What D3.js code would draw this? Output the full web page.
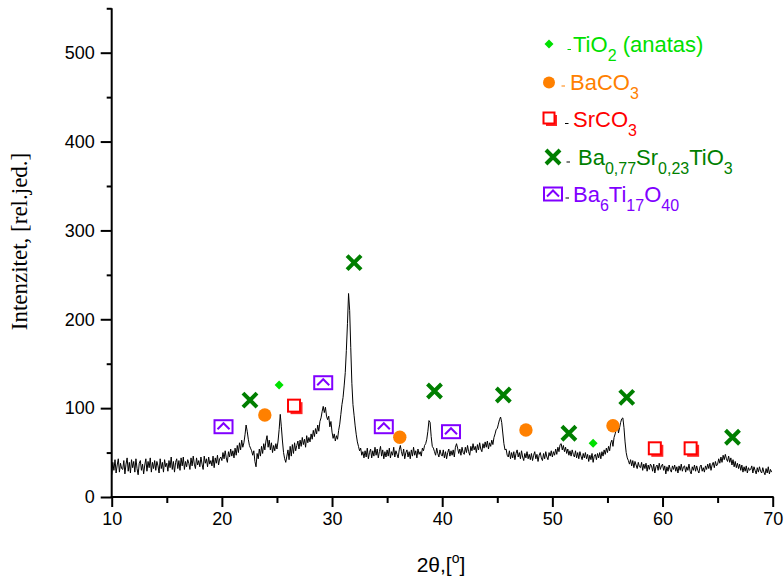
<!DOCTYPE html>
<html>
<head>
<meta charset="utf-8">
<script src="https://cdn.jsdelivr.net/npm/d3@7"></script>
<style>
  html, body { margin: 0; padding: 0; background: #fff; }
  svg { display: block; }
</style>
</head>
<body>
<script>
// ---------------- DATA ----------------
const thetaStart = 10.0;
const thetaStep = 0.1;
const intensity = [
  25,39,30,42,27,36,43,28,38,32,
  31,41,26,37,44,29,39,27,42,33,
  40,28,43,32,25,38,41,30,37,26,
  36,43,29,40,33,44,28,39,32,41,
  30,40,35,27,43,32,39,28,42,34,
  38,29,41,33,45,31,40,28,39,43,
  32,41,30,44,35,45,31,40,34,42,
  38,31,44,35,46,37,32,44,36,41,
  34,45,37,31,46,38,43,34,45,37,
  41,35,46,33,44,38,47,36,43,45,
  41,50,43,52,44,39,51,45,54,46,
  52,44,55,47,58,50,61,53,64,56,
  61,70,81,74,65,58,55,52,47,52,
  40,34,49,43,54,46,57,49,60,53,
  63,69,56,64,53,61,50,58,52,60,
  54,63,76,93,79,63,50,43,39,46,
  53,42,57,46,59,49,61,52,58,63,
  54,64,57,67,59,65,56,69,61,67,
  62,71,65,75,68,77,71,81,74,85,
  89,96,102,95,101,91,87,91,79,85,
  73,66,71,63,69,65,75,82,93,104,
  112,125,140,165,195,229,210,168,128,104,
  92,80,70,62,57,52,55,47,51,44,
  52,45,55,43,50,54,44,52,46,56,
  47,54,44,51,57,46,53,43,51,45,
  53,46,55,44,51,47,56,45,52,48,
  44,53,58,51,46,54,43,50,53,45,
  51,43,53,46,56,47,52,44,54,48,
  51,46,55,52,58,60,65,74,86,84,
  68,57,55,51,47,55,49,45,53,48,
  46,53,44,51,43,50,54,46,52,47,
  53,45,56,60,55,49,54,47,56,50,
  48,56,50,58,51,47,57,52,60,53,
  57,50,59,53,61,54,51,60,55,62,
  56,63,54,61,57,64,59,67,71,76,
  77,82,87,90,84,72,60,53,54,47,
  45,52,43,50,44,51,42,49,53,45,
  50,43,52,45,41,49,44,51,43,48,
  42,49,41,47,51,43,48,40,47,50,
  44,41,49,43,51,45,42,50,46,52,
  45,51,47,54,48,56,51,59,60,53,
  58,51,56,49,54,47,52,46,53,48,
  45,52,44,50,43,51,46,42,49,44,
  50,43,48,40,47,42,49,39,46,48,
  42,49,44,50,43,51,46,53,48,55,
  50,57,52,61,64,57,67,71,77,83,
  72,78,84,88,89,78,62,50,44,41,
  37,42,35,41,33,40,36,32,39,34,
  33,39,30,37,32,38,29,36,31,37,
  35,29,37,27,34,36,30,38,31,35,
  37,30,35,26,34,29,36,31,28,35,
  31,36,29,34,27,35,30,37,29,34,
  35,28,34,30,37,29,26,34,30,36,
  29,35,30,27,34,36,29,33,28,35,
  31,37,32,38,30,36,39,33,40,35,
  37,43,38,45,39,47,42,48,43,40,
  46,39,44,36,42,34,40,33,38,32,
  37,30,36,28,34,29,35,27,33,30,
  31,35,27,34,30,26,33,28,34,29,
  27,33,28,25,32,27,34,26,31,28
];

// phase markers (2theta, intensity position)
const anatasX = [25.2, 53.7];
const anatasY = [126, 60.4];
const bacoX = [23.9, 36.15, 47.6, 55.5];
const bacoY = [92.3, 67.2, 75.4, 80.2];
const srcoX = [26.55, 59.3, 62.55];
const srcoY = [102.8, 54.8, 54.8];
const bstX = [22.55, 32.0, 39.3, 45.55, 51.5, 56.75, 66.35];
const bstY = [109, 263.7, 119.3, 114.8, 71.7, 112.2, 67.2];
const btoX = [20.15, 29.2, 34.7, 40.8];
const btoY = [79.1, 128.6, 79.1, 73.5];

const xMajorTicks = [10, 20, 30, 40, 50, 60, 70];
const xMinorTicks = [15, 25, 35, 45, 55, 65];
const yMajorTicks = [0, 100, 200, 300, 400, 500];
const yMinorTicks = [50, 150, 250, 350, 450, 550];

const xTitle = "2θ,[";
const xTitleSup = "o";
const yTitle = "Intenzitet, [rel.jed.]";

// ---------------- COLOURS ----------------
const cAnatas = "#00e000";
const cBaco = "#ff8000";
const cSrco = "#ff0000";
const cBst = "#007f00";
const cBto = "#8000ff";

// ---------------- CHART ----------------
const W = 784, H = 583;
const svg = d3.select("body").append("svg").attr("width", W).attr("height", H)
  .style("font-family", "Arial, 'Liberation Sans', sans-serif");

const x = d3.scaleLinear().domain([10, 70]).range([111.7, 772.7]);
const y = d3.scaleLinear().domain([0, 550]).range([497, 497 - 550 * 0.8886]);

const pts = intensity.map((v, i) => [thetaStart + i * thetaStep, v]);

// curve
svg.append("path")
  .datum(pts)
  .attr("fill", "none")
  .attr("stroke", "#000")
  .attr("stroke-width", 1)
  .attr("stroke-linejoin", "round")
  .attr("d", d3.line().x(d => x(d[0])).y(d => y(d[1])));

// axes
const xAxis = svg.append("g").attr("transform", `translate(0,${y(0)})`)
  .call(d3.axisBottom(x).tickValues(xMajorTicks).tickSize(10).tickSizeOuter(0).tickPadding(5).tickFormat(d3.format("d")));
const xAxisMinor = svg.append("g").attr("transform", `translate(0,${y(0)})`)
  .call(d3.axisBottom(x).tickValues(xMinorTicks).tickSize(6).tickSizeOuter(0).tickFormat(""));
const yAxis = svg.append("g").attr("transform", `translate(${x(10)},0)`)
  .call(d3.axisLeft(y).tickValues(yMajorTicks).tickSize(11).tickSizeOuter(0).tickPadding(6).tickFormat(d3.format("d")));
const yAxisMinor = svg.append("g").attr("transform", `translate(${x(10)},0)`)
  .call(d3.axisLeft(y).tickValues(yMinorTicks).tickSize(5).tickSizeOuter(0).tickFormat(""));

[xAxis, xAxisMinor, yAxis, yAxisMinor].forEach(g => {
  g.select(".domain").attr("stroke", "#000").attr("stroke-width", 2);
  g.selectAll(".tick line").attr("stroke", "#000").attr("stroke-width", 2);
  g.selectAll(".tick text").attr("fill", "#000").style("font-size", "18px")
    .style("font-family", "Arial, 'Liberation Sans', sans-serif");
});
xAxisMinor.select(".domain").remove();
yAxisMinor.select(".domain").remove();
// extend y-axis line to top (550)
yAxis.select(".domain").attr("d", `M0,${y(0) + 1}V${y(550)}`);
xAxis.select(".domain").attr("d", `M-1,0H${x(70) - x(10) + 1}`).attr("transform", `translate(${x(10)},0)`);

// axis titles
const xt = svg.append("text")
  .attr("x", 441).attr("y", 572)
  .attr("text-anchor", "middle")
  .style("font-size", "21px").attr("fill", "#000");
xt.append("tspan").text(xTitle);
xt.append("tspan").text(xTitleSup).attr("dy", -9).style("font-size", "14px");
xt.append("tspan").text("]").attr("dy", 9);

svg.append("text")
  .attr("transform", "translate(26.5,241.5) rotate(-90)")
  .attr("text-anchor", "middle")
  .style("font-family", "'Times New Roman', 'Liberation Serif', serif")
  .style("font-size", "23px").attr("fill", "#000")
  .text(yTitle);

// ---------------- MARKER SHAPES ----------------
function diamond(g, cx, cy, r, col) {
  g.append("path").attr("d", `M${cx},${cy - r}L${cx + r},${cy}L${cx},${cy + r}L${cx - r},${cy}Z`)
    .attr("fill", col);
}
function circle(g, cx, cy, r, col) {
  g.append("circle").attr("cx", cx).attr("cy", cy).attr("r", r).attr("fill", col);
}
function square(g, cx, cy, s, col) {
  g.append("rect").attr("x", cx - s / 2 + 2.5).attr("y", cy - s / 2 + 2.5)
    .attr("width", s).attr("height", s).attr("fill", col).attr("opacity", 0.85);
  g.append("rect").attr("x", cx - s / 2).attr("y", cy - s / 2)
    .attr("width", s).attr("height", s).attr("fill", "#fff").attr("stroke", col).attr("stroke-width", 2);
}
function cross(g, cx, cy, r, col) {
  g.append("path").attr("d", `M${cx - r},${cy - r}L${cx + r},${cy + r}M${cx + r},${cy - r}L${cx - r},${cy + r}`)
    .attr("stroke", col).attr("stroke-width", 4).attr("fill", "none");
}
function boxChevron(g, cx, cy, w, h, col) {
  g.append("rect").attr("x", cx - w / 2).attr("y", cy - h / 2).attr("width", w).attr("height", h)
    .attr("fill", "#fff").attr("stroke", col).attr("stroke-width", 2);
  g.append("path").attr("d", `M${cx - 6},${cy + 2.5}L${cx},${cy - 3.5}L${cx + 6},${cy + 2.5}`)
    .attr("stroke", col).attr("stroke-width", 2).attr("fill", "none");
}

const mk = svg.append("g");
anatasX.forEach((v, i) => diamond(mk, x(v), y(anatasY[i]), 4.5, cAnatas));
bacoX.forEach((v, i) => circle(mk, x(v), y(bacoY[i]), 6.7, cBaco));
srcoX.forEach((v, i) => square(mk, x(v), y(srcoY[i]), 12, cSrco));
bstX.forEach((v, i) => cross(mk, x(v), y(bstY[i]), 7, cBst));
btoX.forEach((v, i) => boxChevron(mk, x(v), y(btoY[i]), 18, 13, cBto));

// ---------------- LEGEND ----------------
const lg = svg.append("g").style("font-family", "Arial, 'Liberation Sans', sans-serif");
function dash(x1, yy, col) {
  lg.append("line").attr("x1", x1).attr("x2", x1 + 3.5).attr("y1", yy).attr("y2", yy)
    .attr("stroke", col).attr("stroke-width", 1);
}
function label(x0, base, col, parts) {
  const t = lg.append("text").attr("x", x0).attr("y", base).attr("fill", col).style("font-size", "22px");
  let sub = false;
  parts.forEach(p => {
    const isSub = p.sub;
    const ts = t.append("tspan").text(p.t);
    if (isSub && !sub) ts.attr("dy", 8.5).style("font-size", "16px");
    else if (isSub && sub) ts.style("font-size", "16px");
    else if (!isSub && sub) ts.attr("dy", -8.5);
    sub = isSub;
  });
}

diamond(lg, 549, 44, 4.5, cAnatas);
dash(567.5, 49.5, cAnatas);
label(573, 52, cAnatas, [{t: "TiO"}, {t: "2", sub: true}, {t: " (anatas)"}]);

circle(lg, 549, 82.5, 6, cBaco);
dash(561.5, 86, cBaco);
label(570, 90, cBaco, [{t: "BaCO"}, {t: "3", sub: true}]);

square(lg, 549, 118, 11, cSrco);
dash(565, 123.5, "#000");
label(573, 127, cSrco, [{t: "SrCO"}, {t: "3", sub: true}]);

cross(lg, 553, 157, 7, cBst);
dash(566.5, 162, "#000");
label(578, 165, cBst, [{t: "Ba"}, {t: "0,77", sub: true}, {t: "Sr"}, {t: "0,23", sub: true}, {t: "TiO"}, {t: "3", sub: true}]);

boxChevron(lg, 553, 194, 18, 13, cBto);
dash(565.5, 198, "#000");
label(573, 202, cBto, [{t: "Ba"}, {t: "6", sub: true}, {t: "Ti"}, {t: "17", sub: true}, {t: "O"}, {t: "40", sub: true}]);
</script>
</body>
</html>
